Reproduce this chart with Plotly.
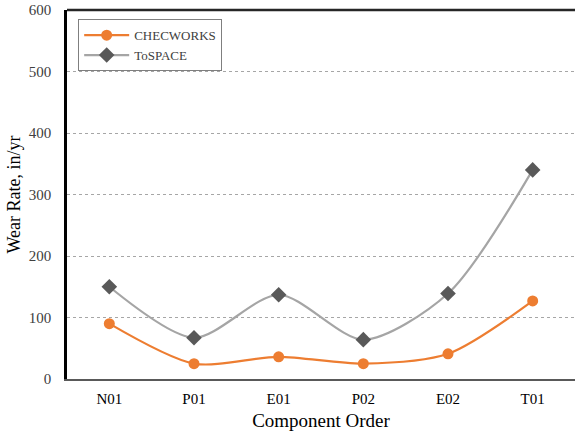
import plotly.graph_objects as go

components = ["N01", "P01", "E01", "P02", "E02", "T01"]
checworks = [90, 25, 36, 25, 41, 127]
tospace = [150, 67, 137, 64, 139, 340]

fig = go.Figure()

fig.add_trace(go.Scatter(
    x=components, y=checworks, name="CHECWORKS",
    mode="lines+markers",
    line=dict(color="#ED7D31", width=2.2, shape="spline", smoothing=0.8),
    marker=dict(symbol="circle", size=11, color="#ED7D31"),
))
fig.add_trace(go.Scatter(
    x=components, y=tospace, name="ToSPACE",
    mode="lines+markers",
    line=dict(color="#A5A5A5", width=2.2, shape="spline", smoothing=0.8),
    marker=dict(symbol="diamond", size=12, color="#595959"),
))

fig.update_layout(
    width=575, height=431,
    margin=dict(l=67, r=0, t=10, b=52, autoexpand=False),
    paper_bgcolor="white", plot_bgcolor="white",
    font=dict(family="Liberation Serif, Times New Roman, serif", color="#404040", size=15),
    showlegend=True,
    legend=dict(
        x=0.022, y=0.975, xanchor="left", yanchor="top",
        bordercolor="#7F7F7F", borderwidth=1, bgcolor="white",
        font=dict(size=13, color="#404040"),
        itemwidth=45,
    ),
    xaxis=dict(
        type="category", range=[-0.5, 5.5], automargin=False,
        showline=True, linecolor="#595959", linewidth=1.5,
        showgrid=False, ticks="", ticklabelstandoff=5,
        tickfont=dict(size=15, color="#000000"),
        title=dict(text="Component Order", font=dict(size=19, color="#000000"), standoff=8),
    ),
    yaxis=dict(
        range=[0, 600], dtick=100, automargin=False,
        showline=True, linecolor="#000000", linewidth=2.5,
        showgrid=True, gridcolor="#A6A6A6", griddash="dot", gridwidth=1,
        zeroline=False, ticks="", ticklabelstandoff=10,
        tickfont=dict(size=15, color="#404040"),
        title=dict(text="Wear Rate, in/yr", font=dict(size=18, color="#000000"), standoff=4),
    ),
)

fig.add_shape(type="line", xref="paper", yref="paper", x0=0, x1=1, y0=1, y1=1,
              line=dict(color="#262626", width=2.5))

# drop the default body margin so the figure sits at the page corner
fig.write_html("out.html", config={"displayModeBar": False},
               post_script="document.body.style.margin='0';")
